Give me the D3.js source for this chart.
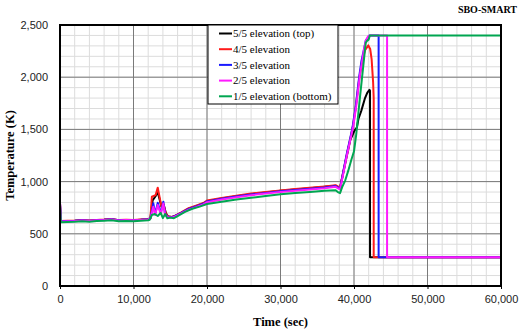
<!DOCTYPE html>
<html>
<head>
<meta charset="utf-8">
<script src="https://cdn.jsdelivr.net/npm/d3@7"></script>
<style>
  body { margin: 0; background: #fff; }
  svg { display: block; }
</style>
</head>
<body>
<div id="chart"></div>
<script>
// Graph dimension
const W = 526, H = 331
const margin = { top: 25, right: 25, bottom: 45, left: 60 },
    width = W - margin.left - margin.right,
    height = H - margin.top - margin.bottom

// data: [time (s), temperature (K)]
const top5 = [[0,790],[120,620],[1000,622],[2000,625],[3000,630],[4000,626],[5000,632],[6000,635],[7000,640],[8000,630],[9000,633],[10000,630],[11000,635],[12000,640],[12300,650],[12600,820],[13000,860],[13300,900],[13800,760],[14100,780],[14400,700],[14700,665],[15200,660],[15600,670],[16500,700],[17500,740],[18500,765],[19500,790],[20000,812],[22000,838],[24000,860],[26000,880],[28000,896],[30000,912],[32000,925],[34000,937],[36000,950],[37500,960],[37900,945],[38100,940],[38500,1070],[39000,1240],[39500,1400],[40000,1480],[40400,1520],[40600,1600],[41000,1680],[41500,1800],[41800,1850],[42100,1880],[42180,1870],[42180,275],[60000,275]]
const elev4 = [[0,790],[120,622],[1000,624],[2000,626],[3000,632],[4000,627],[5000,633],[6000,636],[7000,642],[8000,631],[9000,634],[10000,632],[11000,636],[12000,641],[12300,650],[12500,855],[13000,870],[13300,942],[13800,760],[14100,782],[14400,690],[14700,668],[15200,662],[15600,672],[16500,705],[17500,745],[18500,770],[19500,795],[20000,818],[22000,843],[24000,865],[26000,885],[28000,900],[30000,915],[32000,928],[34000,940],[36000,952],[37500,965],[37900,950],[38100,945],[38500,1080],[39000,1250],[39500,1410],[39800,1510],[40200,1690],[40700,1980],[41100,2150],[41500,2260],[41950,2305],[42200,2270],[42400,2170],[42600,1950],[42680,1800],[42680,275],[60000,275]]
const elev3 = [[0,790],[120,620],[1000,622],[2000,625],[3000,630],[4000,625],[5000,631],[6000,634],[7000,640],[8000,629],[9000,632],[10000,630],[11000,634],[12000,640],[12300,648],[12700,792],[12950,690],[13300,798],[13700,700],[14060,808],[14300,690],[14700,662],[15200,658],[15600,668],[16500,700],[17500,738],[18500,762],[19500,788],[20000,810],[22000,835],[24000,857],[26000,877],[28000,892],[30000,907],[32000,920],[34000,932],[36000,944],[37500,957],[37900,940],[38100,932],[38500,1080],[39000,1260],[39500,1420],[39800,1520],[40200,1700],[40700,2000],[41000,2150],[41300,2250],[41600,2350],[41900,2380],[42100,2400],[43350,2400],[43350,275],[60000,275]]
const elev2 = [[0,805],[120,618],[1000,620],[2000,623],[3000,628],[4000,624],[5000,630],[6000,633],[7000,638],[8000,628],[9000,631],[10000,629],[11000,633],[12000,638],[12300,645],[12700,760],[12950,680],[13300,775],[13700,690],[14060,790],[14300,680],[14700,658],[15200,655],[15600,665],[16500,695],[17500,732],[18500,756],[19500,782],[20000,803],[22000,828],[24000,850],[26000,870],[28000,885],[30000,900],[32000,913],[34000,925],[36000,937],[37500,950],[37900,932],[38100,926],[38500,1060],[39000,1240],[39500,1400],[39900,1530],[40300,1720],[40800,2020],[41100,2150],[41400,2280],[41600,2350],[41900,2390],[42200,2400],[44500,2400],[44500,275],[60000,275]]
const bottom1 = [[0,770],[120,610],[1000,612],[2000,615],[3000,620],[4000,616],[5000,622],[6000,625],[7000,630],[8000,620],[9000,623],[10000,621],[11000,625],[12000,630],[12200,635],[12500,680],[12900,690],[13300,670],[13700,700],[14000,650],[14300,690],[14600,648],[15000,655],[15500,650],[16000,670],[17000,710],[18000,740],[19000,760],[20000,785],[22000,808],[24000,828],[26000,845],[28000,862],[30000,878],[32000,890],[34000,900],[36000,912],[37500,918],[37800,900],[38100,890],[38400,950],[38800,1010],[39200,1100],[39600,1200],[40000,1290],[40300,1450],[40500,1590],[40800,1800],[41100,2000],[41400,2200],[41600,2330],[41800,2350],[42000,2360],[42150,2400],[60000,2400]]

const seriesNames = ["5/5 elevation (top)", "4/5 elevation", "3/5 elevation", "2/5 elevation", "1/5 elevation (bottom)"]
const seriesData = [top5, elev4, elev3, elev2, bottom1]
const seriesColors = ["#000000", "#ff1a1a", "#1a1aff", "#ff1aff", "#00a651"]

const xTicks = [0, 10000, 20000, 30000, 40000, 50000, 60000]
const yTicks = [0, 500, 1000, 1500, 2000, 2500]

const svg = d3.select("#chart").append("svg")
    .attr("width", W)
    .attr("height", H)

const g = svg.append("g")
    .attr("transform", `translate(${margin.left},${margin.top})`)

const x = d3.scaleLinear().domain([0, 60000]).range([0, width])
const y = d3.scaleLinear().domain([0, 2500]).range([height, 0])

// minor grid
g.append("g").selectAll("line")
    .data(d3.range(0, 60001, 2000))
    .join("line")
    .attr("x1", d => x(d)).attr("x2", d => x(d))
    .attr("y1", 0).attr("y2", height)
    .attr("stroke", "#dcdcdc").attr("stroke-width", 1)
g.append("g").selectAll("line")
    .data(d3.range(0, 2501, 100))
    .join("line")
    .attr("x1", 0).attr("x2", width)
    .attr("y1", d => y(d)).attr("y2", d => y(d))
    .attr("stroke", "#dcdcdc").attr("stroke-width", 1)

// major grid
g.append("g").selectAll("line")
    .data(xTicks)
    .join("line")
    .attr("x1", d => x(d)).attr("x2", d => x(d))
    .attr("y1", 0).attr("y2", height)
    .attr("stroke", "#7a7a7a").attr("stroke-width", 1)
g.append("g").selectAll("line")
    .data(yTicks)
    .join("line")
    .attr("x1", 0).attr("x2", width)
    .attr("y1", d => y(d)).attr("y2", d => y(d))
    .attr("stroke", "#7a7a7a").attr("stroke-width", 1)

// axes
const fmt = d3.format(",")
const xAxis = g.append("g")
    .attr("transform", `translate(0,${height})`)
    .call(d3.axisBottom(x).tickValues(xTicks).tickFormat(fmt).tickSize(3).tickPadding(6))
const yAxis = g.append("g")
    .call(d3.axisLeft(y).tickValues(yTicks).tickFormat(fmt).tickSize(0).tickPadding(12))
for (const ax of [xAxis, yAxis]) {
    ax.select(".domain").remove()
    ax.selectAll("text")
        .style("font-family", "Liberation Sans, Arial, sans-serif")
        .style("font-size", "11px")
        .attr("fill", "#222")
}

// lines
g.append("clipPath").attr("id", "clip")
    .append("rect").attr("x", 0).attr("y", 0).attr("width", width).attr("height", height)

const line = d3.line()
    .x(d => x(d[0]))
    .y(d => y(d[1]))

g.append("g").attr("clip-path", "url(#clip)")
    .selectAll("path")
    .data(seriesData)
    .join("path")
    .attr("d", d => line(d))
    .attr("fill", "none")
    .attr("stroke", (d, i) => seriesColors[i])
    .attr("stroke-width", 2)
    .attr("stroke-linejoin", "round")

// frame
g.append("rect")
    .attr("width", width).attr("height", height)
    .attr("fill", "none").attr("stroke", "#000").attr("stroke-width", 2)

// legend
const lg = g.append("g").attr("transform", `translate(${148},0)`)
lg.append("rect")
    .attr("width", 130).attr("height", 79)
    .attr("fill", "#fff").attr("stroke", "#000").attr("stroke-width", 1)
const items = lg.selectAll(".item")
    .data(seriesNames)
    .join("g")
    .attr("class", "item")
    .attr("transform", (d, i) => `translate(0,${8.5 + i * 15.7})`)
items.append("line")
    .attr("x1", 11).attr("x2", 24)
    .attr("stroke", (d, i) => seriesColors[i])
    .attr("stroke-width", 2)
items.append("text")
    .attr("x", 25).attr("dy", "0.35em")
    .style("font-family", "Liberation Serif, Times New Roman, serif")
    .style("font-size", "11px")
    .text(d => d)

// titles
svg.append("text")
    .attr("x", margin.left + width / 2).attr("y", 326)
    .attr("text-anchor", "middle")
    .style("font-family", "Liberation Serif, Times New Roman, serif")
    .style("font-weight", "bold").style("font-size", "12.5px")
    .text("Time (sec)")
svg.append("text")
    .attr("transform", `translate(14,${margin.top + height / 2}) rotate(-90)`)
    .attr("text-anchor", "middle")
    .style("font-family", "Liberation Serif, Times New Roman, serif")
    .style("font-weight", "bold").style("font-size", "12.5px")
    .text("Temperature (K)")
svg.append("text")
    .attr("x", 517).attr("y", 13)
    .attr("text-anchor", "end")
    .style("font-family", "Liberation Serif, Times New Roman, serif")
    .style("font-weight", "bold").style("font-size", "10px")
    .text("SBO-SMART")
</script>
</body>
</html>
